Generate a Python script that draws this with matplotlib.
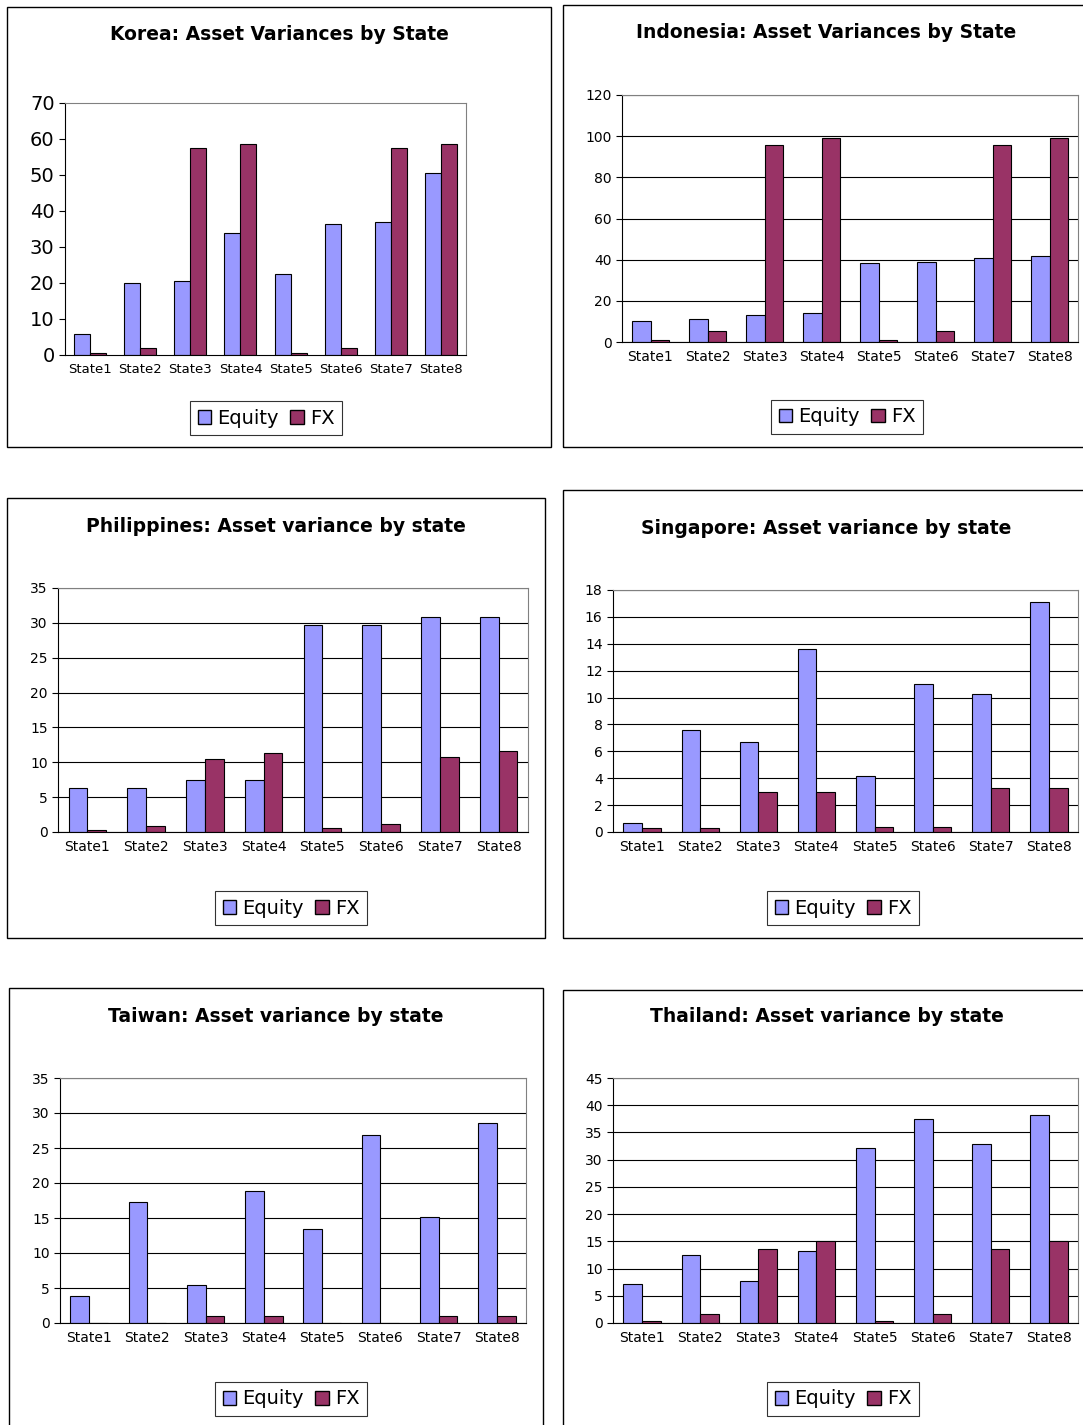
import numpy as np
import matplotlib.pyplot as plt
from matplotlib.patches import Rectangle, Patch

states = [f"State{i}" for i in range(1, 9)]

korea_eq = [5.8, 20, 20.5, 34, 22.5, 36.5, 37, 50.5]
korea_fx = [0.5, 2, 57.5, 58.5, 0.5, 2, 57.5, 58.5]
indo_eq = [10, 11, 13, 14, 38.5, 39, 41, 42]
indo_fx = [1, 5.5, 95.5, 99, 1, 5.5, 95.5, 99]
phil_eq = [6.3, 6.3, 7.5, 7.5, 29.7, 29.7, 30.8, 30.8]
phil_fx = [0.3, 0.9, 10.5, 11.3, 0.6, 1.1, 10.8, 11.6]
sing_eq = [0.7, 7.6, 6.7, 13.6, 4.2, 11.0, 10.3, 17.1]
sing_fx = [0.3, 0.3, 3.0, 3.0, 0.4, 0.4, 3.3, 3.3]
taiw_eq = [3.9, 17.3, 5.5, 18.9, 13.5, 26.9, 15.1, 28.6]
taiw_fx = [0, 0, 1, 1, 0, 0, 1, 1]
thai_eq = [7.2, 12.5, 7.8, 13.2, 32.2, 37.5, 32.9, 38.2]
thai_fx = [0.3, 1.7, 13.6, 15.0, 0.3, 1.7, 13.6, 15.0]

W, H = 1083, 1425
EQ_COL = "#9999FF"
FX_COL = "#993366"

fig = plt.figure(figsize=(W / 100, H / 100), dpi=100)


def px_rect(x0, y0, x1, y1):
    return [x0 / W, 1 - y1 / H, (x1 - x0) / W, (y1 - y0) / H]


def panel(box, plot, title, title_y, eq, fx, ymax, step, legend_xy,
          ytick_fs=10, xtick_fs=10, grid=True):
    bx0, by0, bx1, by1 = box
    fig.patches.append(Rectangle((bx0 / W, 1 - by1 / H), (bx1 - bx0) / W,
                                 (by1 - by0) / H, transform=fig.transFigure,
                                 fill=False, edgecolor="black", lw=1))
    fig.text((bx0 + bx1) / 2 / W, 1 - title_y / H, title, ha="center",
             va="center", fontsize=13.5, fontweight="bold")
    ax = fig.add_axes(px_rect(*plot))
    x = np.arange(len(states))
    w = 0.32
    ax.bar(x - w / 2, eq, w, color=EQ_COL, edgecolor="black", lw=0.8)
    ax.bar(x + w / 2, fx, w, color=FX_COL, edgecolor="black", lw=0.8)
    ax.set_xlim(-0.5, len(states) - 0.5)
    ax.set_ylim(0, ymax)
    ax.set_yticks(np.arange(0, ymax + 0.1, step))
    ax.set_xticks(x)
    ax.set_xticklabels(states, fontsize=xtick_fs)
    ax.tick_params(axis="y", labelsize=ytick_fs, length=4)
    ax.tick_params(axis="x", length=0, pad=6)
    if grid:
        ax.yaxis.grid(True, color="black", lw=0.8)
        ax.set_axisbelow(True)
    for s in ["top", "right"]:
        ax.spines[s].set_color("#808080")
    leg = fig.legend(handles=[Patch(facecolor=EQ_COL, edgecolor="black", label="Equity"),
                              Patch(facecolor=FX_COL, edgecolor="black", label="FX")],
                     loc="center", bbox_to_anchor=(legend_xy[0] / W, 1 - legend_xy[1] / H),
                     ncol=2, fontsize=14, fancybox=False, edgecolor="black",
                     handlelength=0.7, handleheight=0.7, handletextpad=0.3,
                     columnspacing=0.6, borderpad=0.4)
    leg.get_frame().set_linewidth(0.8)


panel((7, 7, 551, 447), (65, 103, 466, 355), "Korea: Asset Variances by State", 35,
      korea_eq, korea_fx, 70, 10, (266, 418), ytick_fs=14, xtick_fs=9.5, grid=False)
panel((563, 5, 1090, 447), (622, 95, 1078, 342), "Indonesia: Asset Variances by State", 33,
      indo_eq, indo_fx, 120, 20, (847, 417))
panel((7, 498, 545, 938), (58, 588, 528, 832), "Philippines: Asset variance by state", 526,
      phil_eq, phil_fx, 35, 5, (291, 908))
panel((563, 490, 1090, 938), (613, 590, 1078, 832), "Singapore: Asset variance by state", 528,
      sing_eq, sing_fx, 18, 2, (843, 908))
panel((9, 988, 543, 1430), (60, 1078, 526, 1323), "Taiwan: Asset variance by state", 1017,
      taiw_eq, taiw_fx, 35, 5, (291, 1399))
panel((563, 990, 1090, 1430), (613, 1078, 1078, 1323), "Thailand: Asset variance by state", 1017,
      thai_eq, thai_fx, 45, 5, (843, 1399))

fig.savefig("out.png", dpi=100)
